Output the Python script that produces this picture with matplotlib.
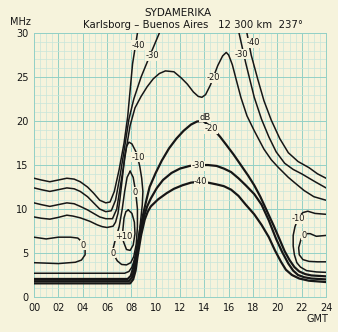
import matplotlib
matplotlib.use("Agg")
import matplotlib.pyplot as plt
from matplotlib.ticker import MultipleLocator

# axes
hour_ticks = list(range(0, 25, 2))
hour_labels = [f"{h:02d}" for h in hour_ticks]
mhz_ticks = [0, 5, 10, 15, 20, 25, 30]

# contours, (GMT hour, MHz)
# upper (MUF side) family
m40_hi = [(0, 13.5), (0.6, 13.3), (1.3, 13.1), (2.0, 13.3), (2.7, 13.5), (3.3, 13.4), (3.8, 13.1),
          (4.4, 12.5), (4.9, 11.8), (5.4, 11.0), (5.9, 10.7), (6.25, 10.8), (6.6, 12.0), (7.0, 14.5),
          (7.4, 17.5), (7.7, 20.5), (7.9, 23.5), (8.1, 26.5), (8.5, 30)]
m40_hi_r = [(17.5, 30), (17.85, 27.5), (18.4, 24.7), (18.9, 22.3), (19.5, 20.1), (20.2, 18.0),
            (20.9, 16.4), (21.7, 15.4), (22.6, 14.7), (23.3, 14.0), (24, 13.5)]
m30_hi = [(0, 12.4), (0.6, 12.2), (1.3, 12.0), (2.0, 12.2), (2.7, 12.4), (3.3, 12.3), (3.8, 12.0),
          (4.4, 11.4), (4.9, 10.7), (5.4, 10.0), (5.9, 9.7), (6.35, 9.8), (6.7, 11.0), (7.1, 14.0),
          (7.5, 17.5), (7.8, 20.2), (8.2, 22.5), (8.8, 25.0), (9.6, 27.7), (10.3, 30)]
m30_hi_r = [(16.85, 30), (17.4, 26.6), (18.1, 22.7), (18.7, 20.2), (19.3, 18.2), (19.9, 16.5),
            (20.6, 15.2), (21.3, 14.5), (22.0, 14.0), (23.1, 13.1), (24, 12.4)]
m20_hi = [(0, 10.7), (0.6, 10.5), (1.3, 10.3), (2.0, 10.5), (2.7, 10.7), (3.3, 10.6), (3.8, 10.3),
          (4.4, 9.9), (4.9, 9.5), (5.4, 9.1), (5.9, 8.9), (6.45, 8.9), (6.8, 10.0), (7.2, 13.5),
          (7.6, 17.0), (7.9, 19.5), (8.3, 21.5), (8.8, 22.8), (9.3, 23.9), (9.8, 24.8), (10.3, 25.4),
          (10.8, 25.7), (11.5, 25.6), (12.1, 24.9), (12.6, 24.2), (13.1, 23.3), (13.5, 22.8), (13.8, 22.7),
          (14.1, 23.0), (14.5, 24.1), (15.1, 26.3), (15.5, 27.4), (15.8, 27.8), (16.0, 27.5), (16.3, 26.4),
          (16.6, 24.8), (17.0, 22.7), (17.5, 20.6), (18.1, 18.9), (18.9, 16.8), (19.5, 15.6), (20.1, 14.7),
          (20.9, 13.6), (21.5, 12.9), (22.2, 12.1), (23.0, 11.4), (24, 11.0)]
# -10 dB: night region, through the narrow tongue near 08 GMT
m10 = [(0, 2.7), (7.45, 2.7), (7.8, 2.9), (8.05, 3.4), (8.35, 4.6), (8.6, 6.5), (8.75, 8.5), (8.9, 10.5),
       (8.95, 12.0), (8.85, 13.5), (8.7, 14.8), (8.45, 16.3), (8.05, 17.4), (7.8, 17.6), (7.6, 17.1),
       (7.45, 16.0), (7.35, 14.6), (7.2, 12.8), (7.05, 11.0), (6.9, 9.5), (6.7, 8.5), (6.5, 8.05),
       (6.0, 7.9), (5.6, 8.0), (5.2, 8.2), (4.6, 8.6), (3.8, 9.0), (3.2, 9.2), (2.7, 9.3), (2.0, 9.05),
       (1.3, 8.85), (0.6, 8.95), (0, 9.1)]
m10_r = [(24, 9.4), (23.1, 9.5), (22.5, 9.75), (22.1, 9.6), (21.75, 9.1), (21.45, 8.0), (21.3, 7.0),
         (21.3, 5.8), (21.4, 4.8), (21.6, 3.9), (21.9, 3.4), (22.4, 3.0), (23.2, 2.85), (24, 2.8)]
# 0 dB
zero_l = [(0, 6.8), (1.0, 6.6), (2.0, 6.8), (3.0, 6.8), (3.6, 6.7), (4.0, 6.2), (4.2, 5.5), (4.2, 4.8),
          (3.9, 4.2), (3.4, 3.95), (2.0, 3.8), (0, 3.9)]
zero_mid = [(7.9, 14.3), (8.15, 13.6), (8.35, 12.0), (8.5, 10.0), (8.5, 8.0), (8.4, 6.0), (8.2, 4.6),
            (7.95, 3.9), (7.6, 3.65), (7.2, 3.7), (6.85, 4.1), (6.55, 4.8), (6.5, 5.5), (6.7, 6.6),
            (7.0, 8.0), (7.25, 10.0), (7.45, 12.0), (7.65, 13.6), (7.9, 14.3)]
zero_r = [(24, 7.0), (23.2, 6.9), (22.7, 7.2), (22.3, 7.2), (21.95, 6.6), (21.75, 5.6), (21.8, 4.8),
          (22.1, 4.25), (22.6, 4.05), (23.3, 4.0), (24, 4.0)]
plus10 = [(7.75, 9.9), (8.05, 9.5), (8.25, 8.5), (8.3, 7.2), (8.15, 5.9), (7.9, 5.3), (7.6, 5.4),
          (7.35, 6.3), (7.3, 7.6), (7.4, 9.0), (7.55, 9.7), (7.75, 9.9)]
# lower (absorption) family
m20_lo = [(0, 2.05), (7.7, 2.05), (7.95, 2.4), (8.15, 3.3), (8.4, 5.1), (8.7, 7.6), (9.0, 9.6),
          (9.25, 11.1), (9.5, 12.5), (10.0, 14.1), (10.5, 15.5), (11.1, 16.9), (11.7, 18.0), (12.3, 18.9),
          (12.9, 19.6), (13.4, 19.95), (13.9, 20.0), (14.3, 19.6), (14.8, 19.0), (15.3, 18.2), (15.8, 17.3),
          (16.4, 16.2), (17.0, 15.0), (17.6, 13.8), (18.1, 12.7), (18.6, 11.4), (19.1, 9.9), (19.7, 8.1),
          (20.2, 6.5), (20.6, 5.2), (21.0, 4.2), (21.4, 3.4), (21.8, 2.9), (22.3, 2.6), (22.8, 2.45),
          (24, 2.35)]
m30_lo = [(0, 1.8), (7.8, 1.8), (8.05, 2.2), (8.25, 3.1), (8.45, 4.8), (8.75, 7.3), (9.05, 9.2),
          (9.3, 10.3), (9.6, 11.2), (10.1, 12.4), (10.6, 13.3), (11.3, 14.1), (12.0, 14.6), (12.8, 14.9),
          (13.6, 15.0), (14.3, 15.0), (15.0, 14.9), (15.6, 14.6), (16.2, 14.2), (16.8, 13.5), (17.4, 12.7),
          (18.1, 11.7), (18.7, 10.5), (19.3, 8.7), (19.9, 6.6), (20.4, 5.1), (20.9, 3.8), (21.3, 3.0),
          (21.7, 2.5), (22.2, 2.25), (22.8, 2.1), (24, 2.0)]
m40_lo = [(0, 1.55), (7.9, 1.55), (8.15, 2.0), (8.35, 3.0), (8.5, 4.5), (8.8, 7.0), (9.1, 8.8),
          (9.35, 9.7), (9.6, 10.3), (10.2, 11.1), (10.9, 11.8), (11.5, 12.3), (12.2, 12.7), (12.9, 13.0),
          (13.6, 13.1), (14.3, 13.0), (15.0, 12.8), (15.6, 12.6), (16.2, 12.2), (16.8, 11.5), (17.4, 10.5),
          (18.1, 9.4), (18.7, 8.2), (19.3, 6.8), (19.8, 5.3), (20.3, 4.0), (20.7, 3.1), (21.2, 2.5),
          (21.8, 2.1), (22.6, 1.85), (24, 1.7)]

# contour labels (text, hour, MHz)
labels = [("-40", 8.6, 28.6), ("-30", 9.75, 27.4), ("-20", 14.7, 24.9), ("-30", 17.05, 27.6),
          ("-40", 18.05, 28.9), ("dB", 14.05, 20.4), ("-20", 14.55, 19.1), ("-30", 13.5, 14.9),
          ("-40", 13.7, 13.1), ("-10", 8.55, 15.9), ("0", 8.35, 11.9), ("+10", 7.35, 6.9),
          ("0", 6.5, 5.0), ("0", 4.0, 5.9), ("-10", 21.75, 8.9), ("0", 22.2, 7.0)]

paper = "#f6f3dc"
grid_major = "#93d0c6"
grid_minor = "#c8e5da"
ink = "#161616"

fig = plt.figure(figsize=(3.38, 3.32), dpi=100, facecolor=paper)
ax = fig.add_axes([0.1006, 0.1054, 0.864, 0.795], facecolor=paper)

def draw(curve, lw=1.1):
    xs = [p[0] for p in curve]
    ys = [p[1] for p in curve]
    ax.plot(xs, ys, color=ink, lw=lw, solid_joinstyle="round", solid_capstyle="round", zorder=3)

for c in [m40_hi, m40_hi_r, m30_hi, m30_hi_r, m20_hi, m10, m10_r, zero_l, zero_mid, zero_r, plus10]:
    draw(c)
for c in [m20_lo, m30_lo, m40_lo]:
    draw(c, lw=1.6)

for txt, h, f in labels:
    ax.text(h, f, txt, fontsize=6, color=ink, ha="center", va="center", zorder=4,
            bbox=dict(boxstyle="square,pad=0.05", fc=paper, ec="none"))

ax.set_xlim(0, 24)
ax.set_ylim(0, 30)
ax.xaxis.set_minor_locator(MultipleLocator(0.5))
ax.yaxis.set_minor_locator(MultipleLocator(1))
ax.set_xticks(hour_ticks)
ax.set_xticklabels(hour_labels)
ax.set_yticks(mhz_ticks)
ax.grid(which="major", color=grid_major, lw=0.7, zorder=0)
ax.grid(which="minor", color=grid_minor, lw=0.5, zorder=0)
ax.set_axisbelow(True)
ax.tick_params(which="both", length=0, labelsize=7, colors=ink, pad=4)
for s in ax.spines.values():
    s.set_color(grid_major)
    s.set_linewidth(0.7)

fig.text(0.527, 0.96, "SYDAMERIKA", ha="center", va="center", fontsize=7.5, color=ink)
fig.text(0.57, 0.925, "Karlsborg \u2013 Buenos Aires   12 300 km  237\u00b0", ha="center", va="center",
         fontsize=7.3, color=ink)
fig.text(0.06, 0.935, "MHz", ha="center", va="center", fontsize=7, color=ink)
fig.text(0.94, 0.04, "GMT", ha="center", va="center", fontsize=7, color=ink)

fig.savefig("out.png", dpi=100, facecolor=paper)
